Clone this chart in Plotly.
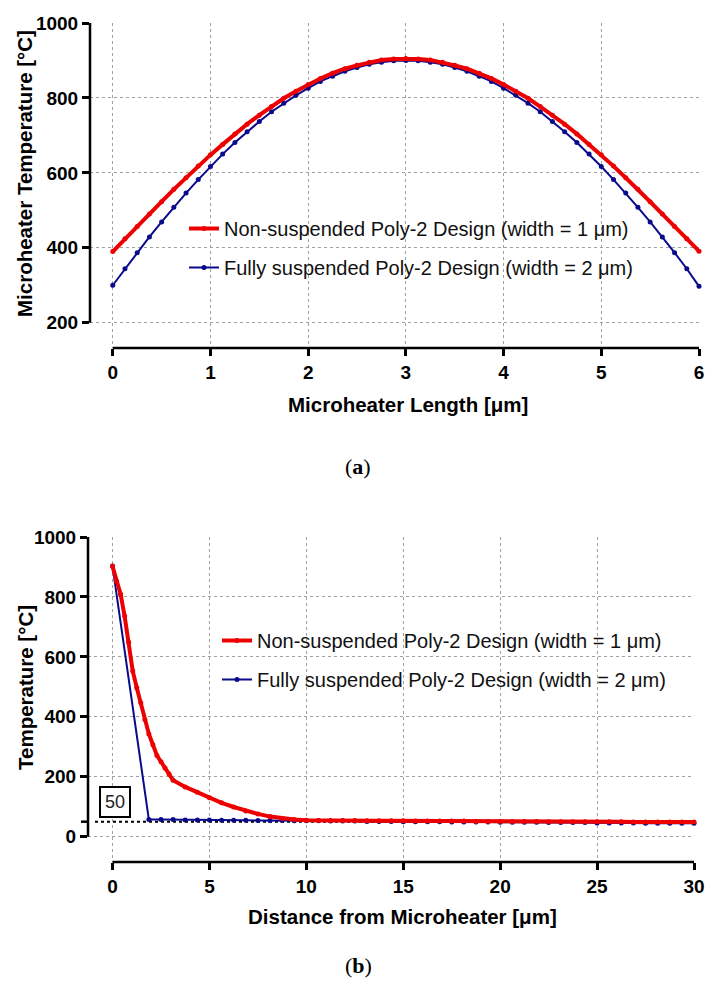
import plotly.graph_objects as go

# page is shifted by the browser's 8px body margin; the visible width ends near 706 px
W, H = 700, 972
OFF = 8


def px(x):
    return (x - OFF) / W


def py(y):
    return 1 - (y - OFF) / H


# ---------------- Data: panel (a) ----------------
length_um = [0, 0.125, 0.25, 0.375, 0.5, 0.625, 0.75, 0.875, 1.0, 1.125, 1.25, 1.375, 1.5, 1.625, 1.75, 1.875,
             2.0, 2.125, 2.25, 2.375, 2.5, 2.625, 2.75, 2.875, 3.0, 3.125, 3.25, 3.375, 3.5, 3.625, 3.75, 3.875,
             4.0, 4.125, 4.25, 4.375, 4.5, 4.625, 4.75, 4.875, 5.0, 5.125, 5.25, 5.375, 5.5, 5.625, 5.75, 5.875, 6.0]
temp_nonsusp_a = [390, 424, 457, 490, 523, 556, 587, 618, 648, 676, 704, 730, 754, 777, 799, 818,
                  836, 852, 866, 878, 887, 895, 901, 904, 905, 904, 901, 895, 887, 878, 866, 852,
                  836, 818, 799, 777, 754, 730, 704, 676, 648, 618, 587, 556, 523, 490, 457, 424, 391]
temp_fullsusp_a = [300, 344, 387, 429, 469, 508, 546, 582, 617, 650, 681, 710, 737, 763, 786, 807,
                   826, 844, 858, 871, 881, 890, 895, 899, 900, 899, 895, 890, 881, 871, 858, 844,
                   826, 807, 786, 763, 737, 710, 681, 650, 617, 582, 546, 508, 469, 429, 387, 344, 297]

# ---------------- Data: panel (b) ----------------
dist_nonsusp_b = [0, 0.208, 0.417, 0.625, 0.833, 1.042, 1.25, 1.458, 1.667, 1.875, 2.083, 2.292, 2.5, 2.708,
                  2.917, 3.125, 3.75, 4.375, 5.0, 5.625, 6.25, 6.875, 7.5, 8.125, 8.75, 9.375, 10.0,
                  10.625, 11.25, 11.875, 12.5, 13.125, 13.75, 14.375, 15.0, 15.625, 16.25, 16.875, 17.5,
                  18.125, 18.75, 19.375, 20.0, 20.625, 21.25, 21.875, 22.5, 23.125, 23.75, 24.375, 25.0,
                  25.625, 26.25, 26.875, 27.5, 28.125, 28.75, 29.375, 30.0]
temp_nonsusp_b = [902, 852, 809, 736, 649, 553, 497, 447, 391, 343, 307, 271, 250, 229,
                  209, 188, 166, 148, 130, 113, 99, 86, 76, 67, 61, 57, 55,
                  54, 54, 54, 54, 53, 53, 53, 53, 52, 52, 52, 52,
                  52, 51, 51, 51, 51, 51, 51, 50, 50, 50, 50, 50,
                  50, 50, 49, 49, 49, 49, 49, 49]
dist_fullsusp_b = [0, 1.875, 2.5, 3.125, 3.75, 4.375, 5.0, 5.625, 6.25, 6.875, 7.5, 8.125, 8.75, 9.375, 10.0,
                   10.625, 11.25, 11.875, 12.5, 13.125, 13.75, 14.375, 15.0, 15.625, 16.25, 16.875, 17.5,
                   18.125, 18.75, 19.375, 20.0, 20.625, 21.25, 21.875, 22.5, 23.125, 23.75, 24.375, 25.0,
                   25.625, 26.25, 26.875, 27.5, 28.125, 28.75, 29.375, 30.0]
temp_fullsusp_b = [903, 57, 57, 57, 56, 56, 56, 55, 55, 55, 54, 54, 54, 53, 53,
                   53, 52, 52, 52, 51, 51, 51, 50, 50, 50, 50, 49,
                   49, 49, 49, 48, 48, 48, 48, 47, 47, 47, 47, 46,
                   46, 46, 46, 45, 45, 45, 45, 45]

name_red = "Non-suspended Poly-2 Design (width = 1 μm)"
name_blue = "Fully suspended Poly-2 Design (width = 2 μm)"
ticks_a_x = [0, 1, 2, 3, 4, 5, 6]
ticks_a_y = [200, 400, 600, 800, 1000]
ticks_b_x = [0, 5, 10, 15, 20, 25, 30]
ticks_b_y = [0, 200, 400, 600, 800, 1000]
ref_level = 50

RED = "#ec0000"
BLUE = "#0a0a8c"
FONT = "Liberation Sans, Arial, sans-serif"

fig = go.Figure()

# panel (a)
fig.add_trace(go.Scatter(x=length_um, y=temp_fullsusp_a, mode="lines+markers", name=name_blue,
                         line=dict(color=BLUE, width=2), marker=dict(color=BLUE, size=5),
                         xaxis="x", yaxis="y", legend="legend", legendgroup="a2", legendrank=2,
                         cliponaxis=False))
fig.add_trace(go.Scatter(x=length_um, y=temp_nonsusp_a, mode="lines+markers", name=name_red,
                         line=dict(color=RED, width=4), marker=dict(color=RED, size=5),
                         xaxis="x", yaxis="y", legend="legend", legendgroup="a1", legendrank=1,
                         cliponaxis=False))
# panel (b)
fig.add_trace(go.Scatter(x=dist_fullsusp_b, y=temp_fullsusp_b, mode="lines+markers", name=name_blue,
                         line=dict(color=BLUE, width=2), marker=dict(color=BLUE, size=5),
                         xaxis="x2", yaxis="y2", legend="legend2", legendgroup="b2", legendrank=2,
                         cliponaxis=False))
fig.add_trace(go.Scatter(x=dist_nonsusp_b, y=temp_nonsusp_b, mode="lines+markers", name=name_red,
                         line=dict(color=RED, width=4), marker=dict(color=RED, size=5),
                         xaxis="x2", yaxis="y2", legend="legend2", legendgroup="b1", legendrank=1,
                         cliponaxis=False))

tickfont = dict(family=FONT, size=19, color="black", weight="bold")
common = dict(showline=False, zeroline=False, showgrid=True, gridcolor="#a0a0a0", griddash="dot",
              gridwidth=1, ticks="outside", ticklen=7, tickwidth=2.5, tickcolor="black",
              tickfont=tickfont, automargin=False, ticklabeloverflow="allow")

legend_font = dict(family=FONT, size=20, color="#111")
fig.update_layout(
    width=W, height=H,
    margin=dict(l=0, r=0, t=0, b=0, autoexpand=False),
    paper_bgcolor="white", plot_bgcolor="white",
    font=dict(family=FONT, color="black"),
    xaxis=dict(domain=[px(90), px(699)], range=[-0.233, 6], tickvals=ticks_a_x, anchor="y", **common),
    yaxis=dict(domain=[py(348), py(23)], range=[132.5, 1000], tickvals=ticks_a_y, anchor="x", **common),
    xaxis2=dict(domain=[px(88), px(694)], range=[-1.265, 30], tickvals=ticks_b_x, anchor="y2", **common),
    yaxis2=dict(domain=[py(862), py(537)], range=[-84.5, 1000], tickvals=ticks_b_y, anchor="x2", **common),
    legend=dict(x=px(184), y=py(209), xanchor="left", yanchor="top", bgcolor="rgba(0,0,0,0)",
                font=legend_font, tracegroupgap=10, itemwidth=30),
    legend2=dict(x=px(217), y=py(621), xanchor="left", yanchor="top", bgcolor="rgba(0,0,0,0)",
                 font=legend_font, tracegroupgap=10, itemwidth=30),
    showlegend=True,
)

# offset axis lines (GraphPad style), extra tick at the 50 °C reference level
shapes = [
    dict(type="line", xref="paper", yref="y", x0=px(90), x1=px(90), y0=200, y1=1000,
         line=dict(color="black", width=2.5)),
    dict(type="line", xref="x", yref="paper", x0=0, x1=6, y0=py(348), y1=py(348),
         line=dict(color="black", width=2.5)),
    dict(type="line", xref="paper", yref="y2", x0=px(88), x1=px(88), y0=0, y1=1000,
         line=dict(color="black", width=2.5)),
    dict(type="line", xref="x2", yref="paper", x0=0, x1=30, y0=py(862), y1=py(862),
         line=dict(color="black", width=2.5)),
    dict(type="line", xref="paper", yref="y2", x0=px(81), x1=px(88), y0=ref_level, y1=ref_level,
         line=dict(color="black", width=2.5)),
    dict(type="line", xref="paper", yref="y2", x0=px(95), x1=px(694), y0=ref_level, y1=ref_level,
         line=dict(color="black", width=2, dash="dot"), layer="below"),
]
fig.update_layout(shapes=shapes)

title_font = dict(family=FONT, size=20.5, color="black", weight="bold")
ann = [
    dict(text="Microheater Length [μm]", x=px(408), y=py(404), xref="paper", yref="paper",
         showarrow=False, font=title_font, xanchor="center", yanchor="middle"),
    dict(text="Microheater Temperature [°C]", x=px(25), y=py(174), xref="paper", yref="paper",
         showarrow=False, font=title_font, textangle=-90, xanchor="center", yanchor="middle"),
    dict(text="Distance from Microheater [μm]", x=px(402), y=py(916), xref="paper", yref="paper",
         showarrow=False, font=title_font, xanchor="center", yanchor="middle"),
    dict(text="Temperature [°C]", x=px(25), y=py(688), xref="paper", yref="paper",
         showarrow=False, font=title_font, textangle=-90, xanchor="center", yanchor="middle"),
    dict(text="(<b>a</b>)", x=px(358), y=py(466), xref="paper", yref="paper", showarrow=False,
         xanchor="center", yanchor="middle",
         font=dict(family="Liberation Serif, serif", size=22, color="black")),
    dict(text="(<b>b</b>)", x=px(358), y=py(965), xref="paper", yref="paper", showarrow=False,
         xanchor="center", yanchor="middle",
         font=dict(family="Liberation Serif, serif", size=22, color="black")),
    dict(text=str(ref_level), x=px(115), y=py(802), xref="paper", yref="paper", showarrow=False,
         xanchor="center", yanchor="middle",
         font=dict(family=FONT, size=18, color="#222"), bordercolor="black", borderwidth=2,
         borderpad=4, bgcolor="white"),
]
fig.update_layout(annotations=ann)

fig.write_html("out.html")
